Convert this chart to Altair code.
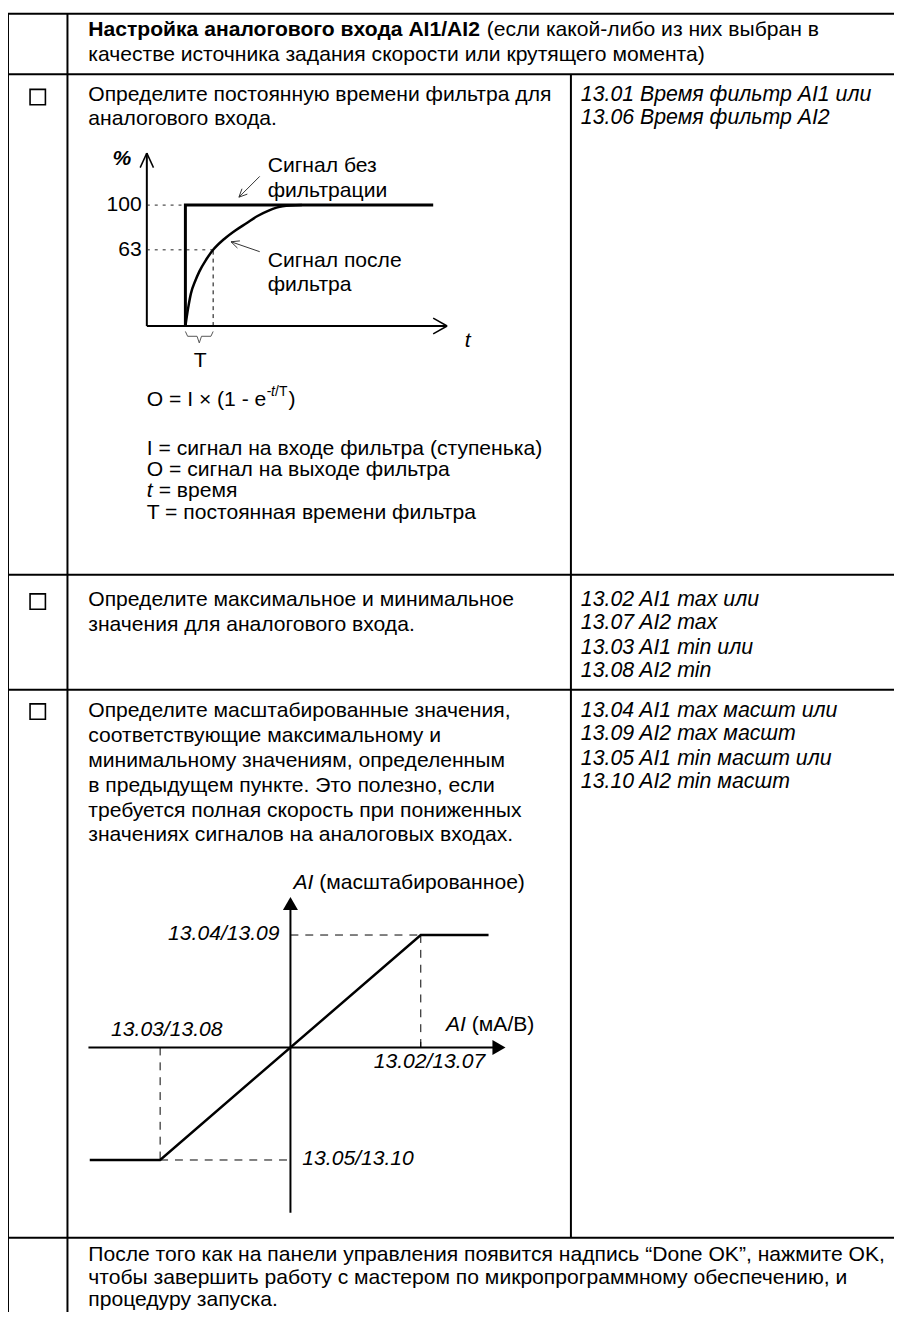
import altair as alt
import pandas as pd

FONT = "Liberation Sans"
FS = 21.3
FI = 21.5
SUP = 14

# ======================= DATA =======================
# Diagram 1 - step response of the filter (t in units of T, value in %)
step_t = [0, 0, 8.93]
step_pct = [0, 100, 100]
filtered_t = [0, 0.1, 0.2, 0.35, 0.5, 0.75, 1.0, 1.4, 1.8, 2.2, 2.6, 3.0, 3.5, 4.2]
filtered_pct = [0, 15, 27, 37, 45, 55, 63, 72, 79, 85, 91, 95.5, 99, 100]
level_names = ["100", "63"]
level_pct = [100, 63]
tau_t = 1.0
axis1_t = [-1.39, 9.43]
axis1_pct = [0, 143]

# Diagram 2 - scaling of the analogue input (normalised to the min/max settings)
scaled_in = [-1.54, -1, 1, 1.52]
scaled_out = [-1, -1, 1, 1]
axis2_in = [-1.55, 1.6]
axis2_out = [-1.47, 1.28]

# Texts
header_bold = "Настройка аналогового входа AI1/AI2"
header_rest = ["(если какой-либо из них выбран в",
               "качестве источника задания скорости или крутящего момента)"]
row1_text = ["Определите постоянную времени фильтра для", "аналогового входа."]
row1_par = ["13.01 Время фильтр AI1 или", "13.06 Время фильтр AI2"]
row2_text = ["Определите максимальное и минимальное", "значения для аналогового входа."]
row2_par = ["13.02 AI1 max или", "13.07 AI2 max", "13.03 AI1 min или", "13.08 AI2 min"]
row3_text = ["Определите масштабированные значения,",
             "соответствующие максимальному и",
             "минимальному значениям, определенным",
             "в предыдущем пункте. Это полезно, если",
             "требуется полная скорость при пониженных",
             "значениях сигналов на аналоговых входах."]
row3_par = ["13.04 AI1 max масшт или", "13.09 AI2 max масшт",
            "13.05 AI1 min масшт или", "13.10 AI2 min масшт"]
row4_text = ["После того как на панели управления появится надпись “Done OK”, нажмите OK,",
             "чтобы завершить работу с мастером по микропрограммному обеспечению, и",
             "процедуру запуска."]
legend_text = ["I = сигнал на входе фильтра (ступенька)",
               "O = сигнал на выходе фильтра",
               "= время",
               "T = постоянная времени фильтра"]
d2_labels = ["13.04/13.09", "13.03/13.08", "13.02/13.07", "13.05/13.10"]

# ======================= LAYOUT (page pixels) =======================
H = 1296
XS = alt.Scale(domain=[8, 902], nice=False, zero=False)
YS = alt.Scale(domain=[8, 8 + H], nice=False, zero=False, reverse=True)

row_lines_y = [8, 69, 574, 690, 1243]
col_x = [8, 68, 576]
col_top = [8, 8, 69]
col_bot = [1330, 1330, 1243]
box_y = [92, 601, 712]

TX, PX = 89, 586
row1_y = [90, 114]
row1_par_y = [90, 113]
row2_y = [600, 625]
row2_par_y = [600, 623, 648, 671]
row3_y = [712, 737, 762, 787, 812, 837]
row3_par_y = [712, 735, 760, 783]
row4_y = [1260, 1284, 1306]
legend_y = [446.75, 468.25, 489.75, 511.25]

# diagram 1 mapping
D1X, D1KX, D1Y, D1KY = 187, 28, 323, 1.22
# diagram 2 mapping
D2X, D2KX, D2Y, D2KY = 293, 131.5, 1051, 113.5


def X(f="x"):
    return alt.X(f"{f}:Q", scale=XS, axis=None)


def Y(f="y"):
    return alt.Y(f"{f}:Q", scale=YS, axis=None)


def map1(c):
    return c.transform_calculate(x=f"{D1X}+{D1KX}*datum.u", y=f"{D1Y}-{D1KY}*datum.v",
                                 x2=f"{D1X}+{D1KX}*datum.u2", y2=f"{D1Y}-{D1KY}*datum.v2")


def map2(c):
    return c.transform_calculate(x=f"{D2X}+{D2KX}*datum.u", y=f"{D2Y}-{D2KY}*datum.v",
                                 x2=f"{D2X}+{D2KX}*datum.u2", y2=f"{D2Y}-{D2KY}*datum.v2")


def seg_chart(df, **kw):
    return alt.Chart(df).mark_rule(**kw).encode(x=X(), x2=alt.X2("x2:Q"), y=Y(), y2=alt.Y2("y2:Q"))


def texts(xs, ys, ss, **kw):
    df = pd.DataFrame({"x": xs, "y": ys, "s": ss})
    opts = dict(font=FONT, fontSize=FS, align="left", baseline="middle", color="black")
    opts.update(kw)
    return alt.Chart(df).mark_text(**opts).encode(x=X(), y=Y(), text="s:N")


layers = []

# ---------- table ----------
tbl = pd.DataFrame({
    "x": [8] * len(row_lines_y) + col_x,
    "x2": [902] * len(row_lines_y) + col_x,
    "y": row_lines_y + col_top,
    "y2": row_lines_y + col_bot,
})
layers.append(seg_chart(tbl, color="black", strokeWidth=2))
layers.append(alt.Chart(pd.DataFrame({"x": [38] * 3, "y": box_y})).mark_square(
    size=240, filled=False, color="black", strokeWidth=1.6, opacity=1).encode(x=X(), y=Y()))

# ---------- body text ----------
layers.append(texts([TX], [24], [header_bold], fontWeight="bold"))
layers.append(texts([491, TX], [24, 50], header_rest))
layers.append(texts([TX] * 2, row1_y, row1_text))
layers.append(texts([TX] * 2, row2_y, row2_text))
layers.append(texts([TX] * 6, row3_y, row3_text))
layers.append(texts([TX] * 3, row4_y, row4_text))
layers.append(texts([PX] * 2, row1_par_y, row1_par, fontStyle="italic", fontSize=FI))
layers.append(texts([PX] * 4, row2_par_y, row2_par, fontStyle="italic", fontSize=FI))
layers.append(texts([PX] * 4, row3_par_y, row3_par, fontStyle="italic", fontSize=FI))

# ---------- diagram 1 ----------
ax1 = pd.DataFrame({"u": [axis1_t[0], axis1_t[0]], "v": [axis1_pct[0], axis1_pct[0]],
                    "u2": [axis1_t[0], axis1_t[1]], "v2": [axis1_pct[1], axis1_pct[0]]})
layers.append(map1(seg_chart(ax1, color="black", strokeWidth=2)))
head1 = pd.DataFrame({
    "u": [axis1_t[0]] * 2 + [axis1_t[1]] * 2,
    "v": [axis1_pct[1]] * 2 + [axis1_pct[0]] * 2,
    "u2": [axis1_t[0] - 0.24, axis1_t[0] + 0.24, axis1_t[1] - 0.5, axis1_t[1] - 0.5],
    "v2": [axis1_pct[1] - 12, axis1_pct[1] - 12, axis1_pct[0] + 6.5, axis1_pct[0] - 6.5],
})
layers.append(map1(seg_chart(head1, color="black", strokeWidth=1.5)))
guides1 = pd.DataFrame({"u": [axis1_t[0], axis1_t[0]], "v": level_pct,
                        "u2": [0, tau_t], "v2": level_pct})
layers.append(map1(seg_chart(guides1, color="#222", strokeWidth=1, strokeDash=[3, 5])))
taul = pd.DataFrame({"u": [tau_t], "v": [0], "u2": [tau_t], "v2": [63]})
layers.append(map1(seg_chart(taul, color="black", strokeWidth=1, strokeDash=[4, 4])))
stepdf = pd.DataFrame({"u": step_t, "v": step_pct, "i": range(len(step_t)),
                       "u2": step_t, "v2": step_pct})
layers.append(map1(alt.Chart(stepdf).mark_line(color="black", strokeWidth=3, strokeJoin="miter")
                   .encode(x=X(), y=Y(), order="i:Q")))
filtdf = pd.DataFrame({"u": filtered_t, "v": filtered_pct, "i": range(len(filtered_t)),
                       "u2": filtered_t, "v2": filtered_pct})
layers.append(map1(alt.Chart(filtdf).mark_line(color="black", strokeWidth=2.5, interpolate="monotone")
                   .encode(x=X(), y=Y(), order="i:Q")))
brace_u = [0, 0.08, 0.42, 0.5, 0.58, 0.92, 1.0]
brace_v = [-4.5, -8.5, -8.5, -14, -8.5, -8.5, -4.5]
bracedf = pd.DataFrame({"u": brace_u, "v": brace_v, "i": range(7), "u2": brace_u, "v2": brace_v})
layers.append(map1(alt.Chart(bracedf).mark_line(color="#555", strokeWidth=1)
                   .encode(x=X(), y=Y(), order="i:Q")))
ann = pd.DataFrame({
    "x": [262, 241, 241, 262, 233, 233],
    "y": [172, 193, 193, 248, 238, 238],
    "x2": [241, 249.5, 244.1, 233, 239.5, 242],
    "y2": [193, 189.9, 184.5, 238, 244.3, 237.1],
})
layers.append(seg_chart(ann, color="#333", strokeWidth=1))
layers.append(texts([143, 143], [201, 246], level_names, align="right"))
layers.append(texts([123], [155], ["%"], fontWeight="bold", fontStyle="italic", align="center"))
layers.append(texts([469], [338], ["t"], fontStyle="italic"))
layers.append(texts([202], [358], ["T"], align="center"))
layers.append(texts([270, 270, 270, 270], [162, 187, 257, 282],
                    ["Сигнал без", "фильтрации", "Сигнал после", "фильтра"]))
layers.append(texts([148, 291], [398, 398], ["O = I × (1 - e", ")"]))
layers.append(texts([269, 277.5], [390, 390], ["-", "/T"], fontSize=SUP))
layers.append(texts([273.5], [390], ["t"], fontSize=SUP, fontStyle="italic"))
layers.append(texts([148, 148, 160, 148], legend_y, legend_text))
layers.append(texts([148], [legend_y[2]], ["t"], fontStyle="italic"))

# ---------- diagram 2 ----------
ax2 = pd.DataFrame({"u": [axis2_in[0], 0], "v": [0, axis2_out[0]],
                    "u2": [axis2_in[1], 0], "v2": [0, axis2_out[1]]})
layers.append(map2(seg_chart(ax2, color="black", strokeWidth=2)))
heads2 = pd.DataFrame({"u": [axis2_in[1], 0], "v": [0, axis2_out[1]],
                       "sh": ["triangle-right", "triangle-up"], "u2": [0, 0], "v2": [0, 0]})
layers.append(map2(alt.Chart(heads2).mark_point(filled=True, color="black", size=230, opacity=1)
                   .encode(x=X(), y=Y(),
                           shape=alt.Shape("sh:N", scale=alt.Scale(domain=["triangle-right", "triangle-up"],
                                                                   range=["triangle-right", "triangle-up"]),
                                           legend=None))))
dash2 = pd.DataFrame({"u": [0, 1, -1, -1], "v": [1, 1, 0, -1],
                      "u2": [1, 1, -1, 0], "v2": [1, 0, -1, -1]})
layers.append(map2(seg_chart(dash2, color="black", strokeWidth=1, strokeDash=[8, 7])))
tick2 = pd.DataFrame({"u": [1], "v": [0], "u2": [1], "v2": [0.05]})
layers.append(map2(seg_chart(tick2, color="black", strokeWidth=1)))
scdf = pd.DataFrame({"u": scaled_in, "v": scaled_out, "i": range(4), "u2": scaled_in, "v2": scaled_out})
layers.append(map2(alt.Chart(scdf).mark_line(color="black", strokeWidth=2.5)
                   .encode(x=X(), y=Y(), order="i:Q")))
layers.append(texts([282], [937], [d2_labels[0]], fontStyle="italic", align="right"))
layers.append(texts([112, 377, 305], [1033, 1066, 1164], d2_labels[1:], fontStyle="italic"))
layers.append(texts([296, 450], [885, 1028], ["AI", "AI"], fontStyle="italic"))
layers.append(texts([322, 476], [885, 1028], ["(масштабированное)", "(мА/В)"]))

chart = alt.layer(*layers).properties(
    width=894, height=H,
    autosize=alt.AutoSizeParams(type="none"),
    padding={"left": 0, "top": 0, "right": 0, "bottom": 8},
    background="white",
).configure_view(stroke=None)

chart.save("out.html", embed_options={"renderer": "svg", "actions": False})
